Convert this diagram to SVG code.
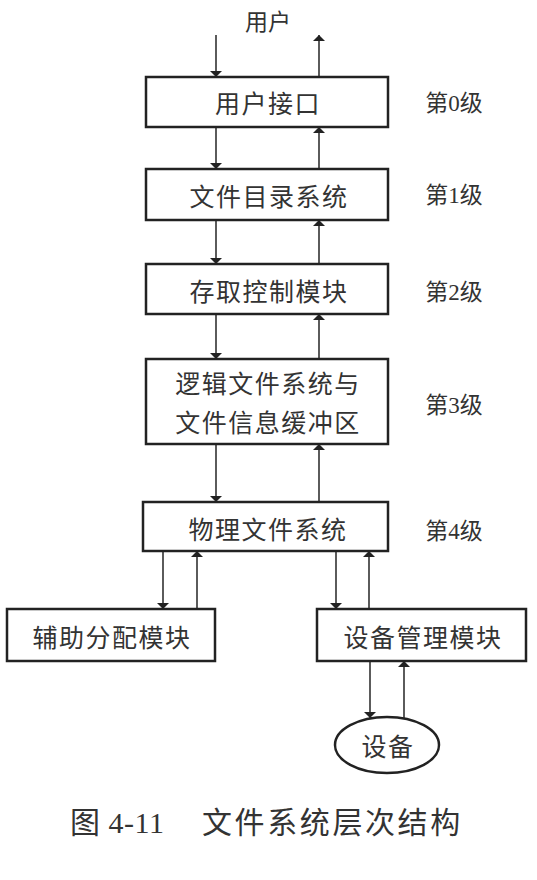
<svg xmlns="http://www.w3.org/2000/svg" width="537" height="880" viewBox="0 0 537 880">
<style>
.box{fill:#fff;stroke:#222;stroke-width:2.5}
.ln{stroke:#333;stroke-width:1.6;fill:none}
.t{font-family:"Noto Sans CJK SC","Liberation Sans",sans-serif;font-size:25px;fill:#333;text-anchor:middle;dominant-baseline:central;letter-spacing:1.5px}
.lv{font-family:"Liberation Serif","Noto Sans CJK SC",serif;font-size:23px;fill:#333;text-anchor:middle;dominant-baseline:central}
.cap{font-family:"Liberation Serif","Noto Sans CJK SC",serif;font-size:30px;fill:#333;dominant-baseline:central;letter-spacing:2.6px}
</style>
<defs>
<marker id="ah" viewBox="0 0 10 10" refX="10" refY="5" markerWidth="6" markerHeight="12" markerUnits="userSpaceOnUse" orient="auto" preserveAspectRatio="none">
<path d="M0,0 L10,5 L0,10 z" fill="#222"/>
</marker>
</defs>
<rect width="537" height="880" fill="#fff"/>
<text class="lv" x="268" y="20" style="font-family:'Noto Sans CJK SC',sans-serif">用户</text>
<g id="connectors">
<line class="ln" x1="216" y1="35" x2="216" y2="77" marker-end="url(#ah)"/>
<line class="ln" x1="319" y1="77" x2="319" y2="35" marker-end="url(#ah)"/>
<line class="ln" x1="216" y1="127" x2="216" y2="169" marker-end="url(#ah)"/>
<line class="ln" x1="319" y1="169" x2="319" y2="127" marker-end="url(#ah)"/>
<line class="ln" x1="216" y1="220" x2="216" y2="264" marker-end="url(#ah)"/>
<line class="ln" x1="319" y1="264" x2="319" y2="220" marker-end="url(#ah)"/>
<line class="ln" x1="216" y1="314" x2="216" y2="359" marker-end="url(#ah)"/>
<line class="ln" x1="319" y1="359" x2="319" y2="314" marker-end="url(#ah)"/>
<line class="ln" x1="216" y1="444" x2="216" y2="502" marker-end="url(#ah)"/>
<line class="ln" x1="319" y1="502" x2="319" y2="444" marker-end="url(#ah)"/>
<line class="ln" x1="163" y1="551" x2="163" y2="609" marker-end="url(#ah)"/>
<line class="ln" x1="197" y1="609" x2="197" y2="551" marker-end="url(#ah)"/>
<line class="ln" x1="336" y1="551" x2="336" y2="609" marker-end="url(#ah)"/>
<line class="ln" x1="369" y1="609" x2="369" y2="551" marker-end="url(#ah)"/>
<line class="ln" x1="370" y1="661" x2="370" y2="718" marker-end="url(#ah)"/>
<line class="ln" x1="404" y1="718" x2="404" y2="661" marker-end="url(#ah)"/>
</g>
<g id="n0"><rect class="box" x="146" y="77" width="242" height="50"/><text class="t" x="268" y="102">用户接口</text></g>
<g id="n1"><rect class="box" x="146" y="169" width="242" height="51"/><text class="t" x="269" y="195">文件目录系统</text></g>
<g id="n2"><rect class="box" x="146" y="264" width="242" height="50"/><text class="t" x="269" y="290">存取控制模块</text></g>
<g id="n3"><rect class="box" x="146" y="359" width="242" height="85"/><text class="t" x="268" y="382">逻辑文件系统与</text><text class="t" x="268" y="421">文件信息缓冲区</text></g>
<g id="n4"><rect class="box" x="143" y="502" width="245" height="49"/><text class="t" x="268" y="528">物理文件系统</text></g>
<g id="n5"><rect class="box" x="7" y="609" width="208" height="52"/><text class="t" x="112" y="636">辅助分配模块</text></g>
<g id="n6"><rect class="box" x="317" y="609" width="209" height="52"/><text class="t" x="423" y="636">设备管理模块</text></g>
<g id="n7"><ellipse class="box" cx="387" cy="745" rx="52" ry="28"/><text class="t" x="388" y="745">设备</text></g>
<g id="levels">
<text class="lv" x="454" y="103">第0级</text>
<text class="lv" x="454" y="195">第1级</text>
<text class="lv" x="454" y="292">第2级</text>
<text class="lv" x="454" y="405">第3级</text>
<text class="lv" x="454" y="531">第4级</text>
</g>
<text class="cap" x="70" y="822" style="letter-spacing:0.5px">图 4-11</text>
<text class="cap" x="202" y="822">文件系统层次结构</text>
</svg>
